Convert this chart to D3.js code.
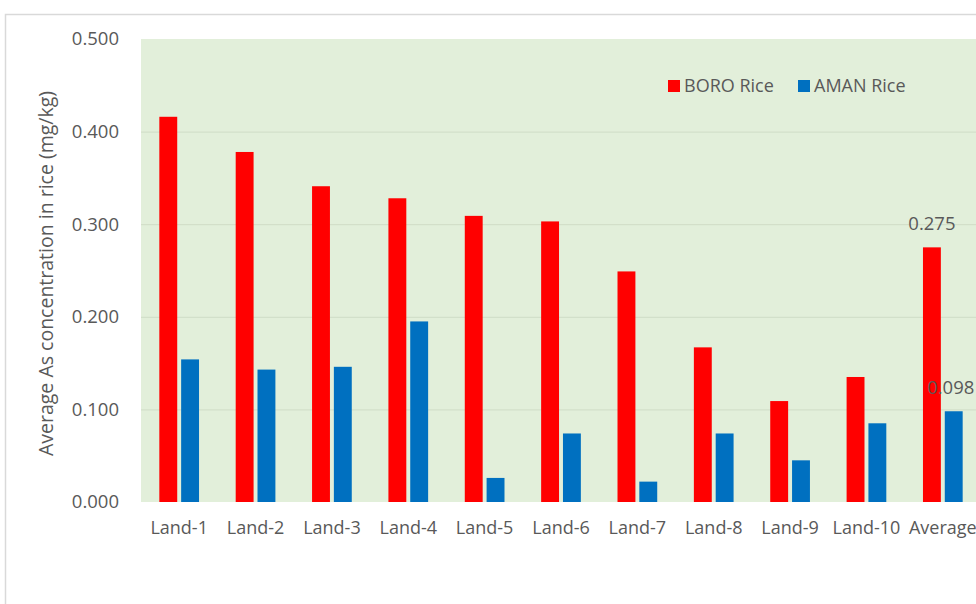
<!DOCTYPE html>
<html>
<head>
<meta charset="utf-8">
<script src="https://cdn.jsdelivr.net/npm/d3@7"></script>
<style>
  html, body { margin: 0; padding: 0; background: #ffffff; }
  svg { display: block; }
</style>
</head>
<body>
<svg id="chart" width="976" height="604"></svg>
<script>
const categories = ["Land-1","Land-2","Land-3","Land-4","Land-5","Land-6","Land-7","Land-8","Land-9","Land-10","Average"];
const seriesNames = ["BORO Rice","AMAN Rice"];
const boroValues = [0.416, 0.378, 0.341, 0.328, 0.309, 0.303, 0.249, 0.167, 0.109, 0.135, 0.275];
const amanValues = [0.154, 0.143, 0.146, 0.195, 0.026, 0.074, 0.022, 0.074, 0.045, 0.085, 0.098];
const yTicks = [0, 0.1, 0.2, 0.3, 0.4, 0.5];
const labelledCategory = "Average";

const colors = {"BORO Rice": "#FF0000", "AMAN Rice": "#0070C0"};
const font = "'Open Sans', sans-serif";
const textColor = "#595959";

const svg = d3.select("#chart");
const plot = {left: 141, right: 981, top: 39, bottom: 502};

// chart area border
svg.append("rect").attr("x", 5.5).attr("y", 14.5).attr("width", 1000).attr("height", 700)
  .attr("fill", "#ffffff").attr("stroke", "#d9d9d9").attr("stroke-width", 1.5);

const x0 = d3.scaleBand().domain(categories).range([plot.left, plot.right])
  .paddingInner(0.48).paddingOuter(0.24);
const x1 = d3.scaleBand().domain(seriesNames).range([0, x0.bandwidth()]).paddingInner(0.18);
const y = d3.scaleLinear().domain([0, 0.5]).range([plot.bottom, plot.top]);

// plot area background
svg.append("rect").attr("x", plot.left).attr("y", plot.top)
  .attr("width", plot.right - plot.left).attr("height", plot.bottom - plot.top)
  .attr("fill", "#E2EFDA");

// gridlines + y tick labels via axis
const yAxis = d3.axisLeft(y).tickValues(yTicks).tickFormat(d3.format(".3f"))
  .tickSize(-(plot.right - plot.left)).tickPadding(22);
const gy = svg.append("g").attr("transform", `translate(${plot.left},0)`).call(yAxis);
gy.select(".domain").remove();
gy.selectAll(".tick line").attr("stroke", "#cfdcc6").attr("stroke-width", 1)
  .filter(d => d === 0 || d === 0.5).attr("stroke-opacity", 0);
gy.selectAll(".tick text").attr("fill", textColor).style("font-family", font).style("font-size", "18.5px");

// bars
const data = categories.map((c, i) => ({cat: c, values: [
  {key: "BORO Rice", v: boroValues[i]}, {key: "AMAN Rice", v: amanValues[i]}]}));
const groups = svg.append("g").selectAll("g").data(data).join("g")
  .attr("transform", d => `translate(${x0(d.cat)},0)`);
groups.selectAll("rect").data(d => d.values).join("rect")
  .attr("x", d => x1(d.key)).attr("width", x1.bandwidth())
  .attr("y", d => y(d.v)).attr("height", d => y(0) - y(d.v))
  .attr("fill", d => colors[d.key]);

// data labels for average
const avg = data.find(d => d.cat === labelledCategory);
svg.append("g").selectAll("text").data(avg.values).join("text")
  .attr("x", d => x0(avg.cat) + x1(d.key) + x1.bandwidth() / 2 + (d.key === "AMAN Rice" ? -3 : 0))
  .attr("y", d => y(d.v) - 17)
  .attr("text-anchor", "middle")
  .attr("fill", textColor).style("font-family", font).style("font-size", "18.5px")
  .text(d => d3.format(".3f")(d.v));

// x axis labels
const xAxis = d3.axisBottom(x0).tickSize(0).tickPadding(19);
const gx = svg.append("g").attr("transform", `translate(0,${plot.bottom})`).call(xAxis);
gx.select(".domain").remove();
gx.selectAll(".tick text").attr("fill", textColor).style("font-family", font).style("font-size", "18px");

// y axis title
svg.append("text")
  .attr("transform", `translate(53,${(plot.top + plot.bottom) / 2 + 3}) rotate(-90)`)
  .attr("text-anchor", "middle")
  .attr("fill", textColor).style("font-family", font).style("font-size", "19.5px")
  .text("Average As concentration in rice (mg/kg)");

// legend
const legend = svg.append("g").attr("transform", "translate(668,80)");
const li = legend.selectAll("g").data(seriesNames).join("g")
  .attr("transform", (d, i) => `translate(${i * 130},0)`);
li.append("rect").attr("width", 12).attr("height", 12).attr("fill", d => colors[d]);
li.append("text").attr("x", 16).attr("y", 6).attr("dy", "0.35em")
  .attr("fill", textColor).style("font-family", font).style("font-size", "18px")
  .text(d => d);
</script>
</body>
</html>
